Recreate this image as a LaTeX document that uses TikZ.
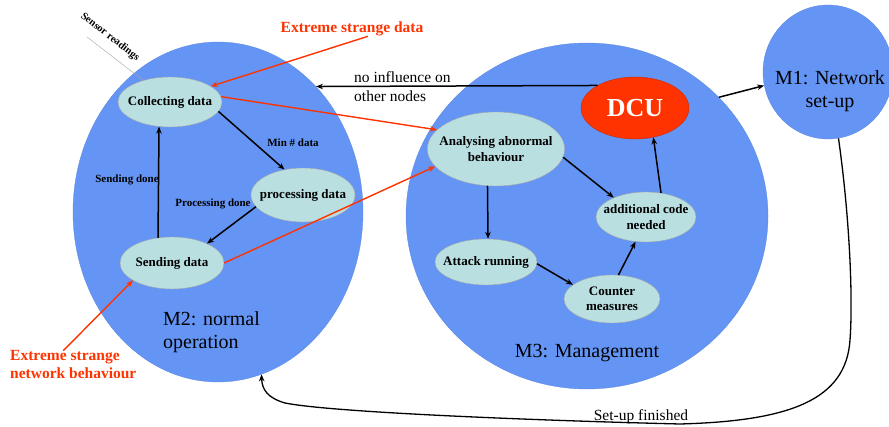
\documentclass[tikz,border=0pt]{standalone}
\usepackage{fontspec}
\setmainfont{Liberation Serif}
\usetikzlibrary{arrows.meta,shapes.geometric}
\definecolor{zoneblue}{RGB}{100,149,245}
\definecolor{paleblue}{RGB}{185,223,225}
\definecolor{hotred}{RGB}{255,51,0}

\begin{document}
\begin{tikzpicture}[
    x=1pt,y=-1pt,
    zone/.style={ellipse,fill=zoneblue,draw=zoneblue!90!black,line width=.3pt,inner sep=0pt},
    st/.style={ellipse,fill=paleblue,draw=gray!70,line width=.4pt,inner xsep=-8pt,inner ysep=0pt,
      align=center,font=\fontsize{13}{15.5}\selectfont\bfseries},
    big/.style={font=\fontsize{20}{23.5}\selectfont,align=left,inner sep=0pt},
    lbl/.style={font=\fontsize{11}{13}\selectfont\bfseries,inner sep=0pt},
    warn/.style={font=\fontsize{15.5}{18}\selectfont\bfseries,text=hotred,align=left,inner sep=0pt},
    e/.style={-{Stealth[length=7pt,width=5.5pt]},line width=1.5pt},
    hot/.style={-{Stealth[length=7pt,width=5.5pt]},line width=1.4pt,hotred}
  ]
    \useasboundingbox (0,0) rectangle (889,427);
    % the three modes
    \node[zone,minimum width=290,minimum height=340] (m2) at (218,212) {};
    \node[zone,minimum width=362,minimum height=346] (m3) at (587,216) {};
    \node[zone,minimum width=130,minimum height=134] (m1) at (828,72) {};
    \node[big,align=center] (m1txt) at (830,91) {M1: Network\\set-up};
    \node[big,anchor=west] (m2txt) at (163,332) {M2: normal\\operation};
    \node[big] (m3txt) at (587,353) {M3: Management};
    % states
    \node[st,minimum width=104,minimum height=50] (coll) at (170,102) {Collecting data};
    \node[st,minimum width=104,minimum height=54] (proc) at (303,195) {processing data};
    \node[st,minimum width=104,minimum height=52] (send) at (172,263) {Sending data};
    \node[st,minimum width=136,minimum height=74] (ana) at (496,149) {Analysing abnormal\\behaviour};
    \node[st,minimum width=100,minimum height=50] (add) at (646,217) {additional code\\needed};
    \node[st,minimum width=102,minimum height=46] (att) at (486,262) {Attack running};
    \node[st,minimum width=96,minimum height=48] (cm) at (612,299) {Counter\\measures};
    \node[ellipse,fill=hotred,draw=hotred!80!black,line width=.4pt,inner sep=0pt,minimum width=108,minimum height=62,
      text=white,font=\fontsize{26}{30}\selectfont\bfseries] (dcu) at (635,108) {DCU};
    % labels
    \node[lbl] (mind) at (293,143) {Min \# data};
    \node[lbl] (sdone) at (127,180) {Sending done};
    \node[lbl] (pdone) at (213,204) {Processing done};
    \node[font=\fontsize{10.5}{12}\selectfont\bfseries,rotate=-38,inner sep=0pt] (sensor) at (110,37) {Sensor readings};
    \coordinate (sensorend) at (87,37);
    \node[font=\fontsize{15.5}{19}\selectfont,align=left,anchor=west,inner sep=0pt] (noinf) at (354,87) {no influence on\\other nodes};
    \node[font=\fontsize{15.5}{18}\selectfont,inner sep=0pt] (setup) at (641,417) {Set-up finished};
    \node[warn] (esd) at (352,29) {Extreme strange data};
    \node[warn,anchor=west] (esnb) at (10,365) {Extreme strange\\network behaviour};
    % connectors
    \draw[gray!70,line width=.4pt] (sensorend) -- (coll.141);
    \foreach \s/\t in {coll.-11/proc.126,proc.194/send.29,send.119/coll.246,ana.-7/add.149,add.58/dcu.302,
      ana.257/att.85,att.-2/cm.160,cm.75/add.247,m3.42/m1.192,dcu.149/m2.52} {\draw[e] (\s)--(\t);}
    \foreach \s/\t in {coll.6/ana.162,send.0/ana.196} {\draw[hot] (\s)--(\t);}
    \draw[hot] ([xshift=16pt]esd.south) -- (coll.21);
    \draw[hot] ([xshift=-10pt]esnb.north) -- (send.204);
    \draw[e,line width=1.3pt] (m1.279) .. controls (850,220) and (853,300) .. (850,340)
      .. controls (846,400) and (790,421) .. (680,424) .. controls (520,420) and (330,412) .. (285,403)
      .. controls (268,398) and (262,390) .. (m2.285);
\end{tikzpicture}
\end{document}
